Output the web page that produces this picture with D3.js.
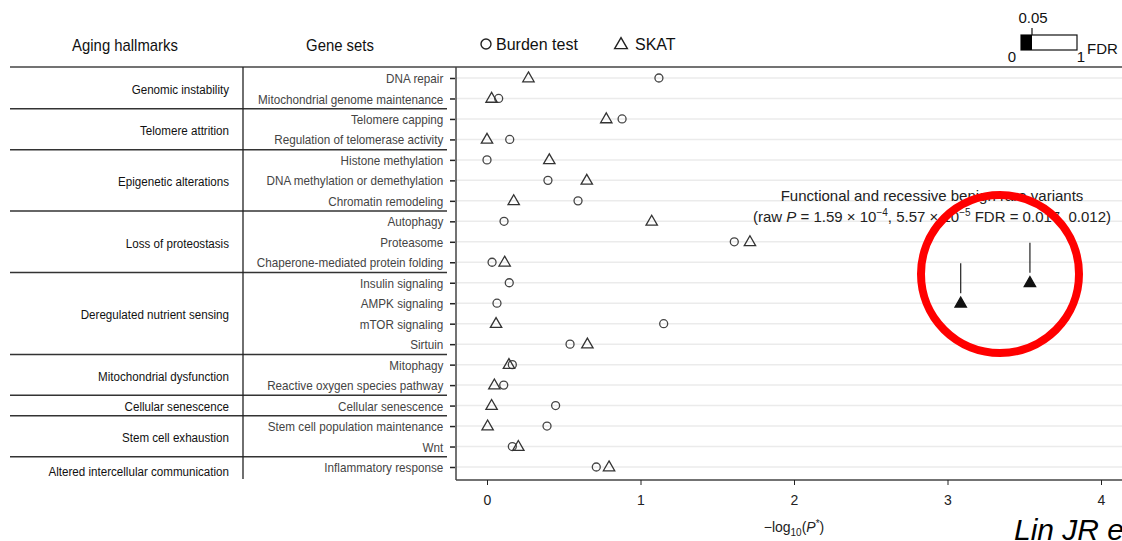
<!DOCTYPE html>
<html>
<head>
<meta charset="utf-8">
<script src="https://cdn.jsdelivr.net/npm/d3@7"></script>
<style>
body { margin: 0; background: #fff; }
svg { display: block; }
text { font-family: "Liberation Sans", Arial, Helvetica, sans-serif; }
</style>
</head>
<body>
<div id="container"></div>
<script>
// gene sets, top to bottom
var geneSets = ["DNA repair", "Mitochondrial genome maintenance", "Telomere capping",
	"Regulation of telomerase activity", "Histone methylation", "DNA methylation or demethylation",
	"Chromatin remodeling", "Autophagy", "Proteasome", "Chaperone-mediated protein folding",
	"Insulin signaling", "AMPK signaling", "mTOR signaling", "Sirtuin", "Mitophagy",
	"Reactive oxygen species pathway", "Cellular senescence", "Stem cell population maintenance",
	"Wnt", "Inflammatory response"];

// aging hallmarks and how many gene sets each one spans
var hallmarks = ["Genomic instability", "Telomere attrition", "Epigenetic alterations",
	"Loss of proteostasis", "Deregulated nutrient sensing", "Mitochondrial dysfunction",
	"Cellular senescence", "Stem cell exhaustion", "Altered intercellular communication"];
var hallmarkSizes = [2, 2, 3, 3, 4, 2, 1, 2, 1];

// -log10(P*) values
var burden = [1.12, 0.076, 0.88, 0.148, 0.0, 0.397, 0.593, 0.111, 1.611, 0.033,
	0.145, 0.065, 1.151, 0.541, 0.165, 0.109, 0.447, 0.391, 0.165, 0.712];
var skat = [0.27, 0.03, 0.777, 0.0, 0.406, 0.65, 0.174, 1.073, 1.713, 0.115,
	3.537, 3.086, 0.059, 0.654, 0.143, 0.048, 0.03, 0.004, 0.204, 0.795];
// FDR below 0.05 -> filled
var skatSignificant = ["Insulin signaling", "AMPK signaling"];

var xTicks = [0, 1, 2, 3, 4];

var W = 1122, H = 541;
var narrow = "scale(0.9,1)";
var svg = d3.select("#container").append("svg")
	.attr("width", W)
	.attr("height", H);

var panel = {left: 456, top: 67, bottom: 480};

var x = d3.scaleLinear().domain([0, 4]).range([487, 1101]);
var y = d3.scalePoint().domain(geneSets).range([78, 467]);

// clip for panel
svg.append("defs").append("clipPath").attr("id", "pclip")
	.append("rect").attr("x", panel.left).attr("y", panel.top)
	.attr("width", W - panel.left).attr("height", panel.bottom - panel.top);

// grid lines
svg.append("g").selectAll("line").data(geneSets).enter()
	.append("line")
	.attr("x1", panel.left).attr("x2", W)
	.attr("y1", function(d) { return y(d); })
	.attr("y2", function(d) { return y(d); })
	.attr("stroke", "#ebebeb")
	.attr("stroke-width", 1.5);

// top rule
svg.append("line")
	.attr("x1", 10).attr("x2", W).attr("y1", panel.top).attr("y2", panel.top)
	.attr("stroke", "#444").attr("stroke-width", 1.5);

// panel left border
svg.append("line")
	.attr("x1", panel.left).attr("x2", panel.left).attr("y1", panel.top).attr("y2", panel.bottom)
	.attr("stroke", "#444").attr("stroke-width", 1.5);

// y axis ticks + labels (gene sets)
var yAxis = d3.axisLeft(y).tickSize(5).tickPadding(8);
var yg = svg.append("g")
	.attr("transform", "translate(" + (panel.left - 1) + ",0)")
	.call(yAxis);
yg.select(".domain").remove();
yg.selectAll(".tick line").attr("stroke", "#222").attr("stroke-width", 1.5);
yg.selectAll(".tick text")
	.attr("fill", "#444")
	.attr("transform", narrow)
	.style("font-size", "13px")
	.attr("dy", "0.35em");

// x axis
var xAxis = d3.axisBottom(x).tickValues(xTicks).tickFormat(d3.format("d")).tickSize(5).tickPadding(10);
var xg = svg.append("g")
	.attr("transform", "translate(0," + panel.bottom + ")")
	.call(xAxis);
xg.select(".domain").attr("d", "M" + panel.left + ",0H" + W).attr("stroke", "#444").attr("stroke-width", 1.5);
xg.selectAll(".tick line").attr("stroke", "#222");
xg.selectAll(".tick text").attr("fill", "#222").style("font-size", "14px");

var xl = svg.append("text")
	.attr("x", x(2)).attr("y", 532)
	.attr("text-anchor", "middle")
	.attr("fill", "#222")
	.style("font-size", "14px");
xl.append("tspan").text("\u2212log");
xl.append("tspan").attr("dy", 4).style("font-size", "10px").text("10");
xl.append("tspan").attr("dy", -4).text("(");
xl.append("tspan").style("font-style", "italic").text("P");
xl.append("tspan").attr("dy", -5).style("font-size", "10px").text("*");
xl.append("tspan").attr("dy", 5).text(")");

// hallmark table
var starts = [];
var acc = 0;
hallmarkSizes.forEach(function(n) { starts.push(acc); acc += n; });
function boundary(i) {
	if (i <= 0) return panel.top;
	if (i >= geneSets.length) return panel.bottom;
	return (y(geneSets[i - 1]) + y(geneSets[i])) / 2;
}
var table = svg.append("g");
table.selectAll(".sep").data(starts.slice(1)).enter()
	.append("line")
	.attr("class", "sep")
	.attr("x1", 10).attr("x2", 447)
	.attr("y1", function(d) { return boundary(d); })
	.attr("y2", function(d) { return boundary(d); })
	.attr("stroke", "#333").attr("stroke-width", 1.5);
table.append("line")
	.attr("x1", 243).attr("x2", 243).attr("y1", panel.top).attr("y2", 479)
	.attr("stroke", "#222").attr("stroke-width", 1.3);
table.selectAll(".hm").data(hallmarks).enter()
	.append("g")
	.attr("class", "hm")
	.attr("transform", function(d, i) {
		var cy = (boundary(starts[i]) + boundary(starts[i] + hallmarkSizes[i])) / 2 + 1;
		if (i == hallmarks.length - 1) cy += 2;
		return "translate(229," + cy + ") scale(0.86,1)";
	})
	.append("text")
	.attr("dy", "0.35em")
	.attr("text-anchor", "end")
	.attr("fill", "#111")
	.style("font-size", "13.5px")
	.text(function(d) { return d; });

// headers
svg.append("g").attr("transform", "translate(125,51) scale(0.93,1)")
	.append("text").attr("text-anchor", "middle")
	.attr("fill", "#111").style("font-size", "16px").text("Aging hallmarks");
svg.append("g").attr("transform", "translate(340,51) scale(0.93,1)")
	.append("text").attr("text-anchor", "middle")
	.attr("fill", "#111").style("font-size", "16px").text("Gene sets");

// points
var plot = svg.append("g").attr("clip-path", "url(#pclip)");
plot.selectAll(".burden").data(burden).enter()
	.append("circle")
	.attr("class", "burden")
	.attr("cx", function(d) { return x(d); })
	.attr("cy", function(d, i) { return y(geneSets[i]); })
	.attr("r", 4)
	.attr("fill", "none")
	.attr("stroke", "#444")
	.attr("stroke-width", 1.3);

var tri = d3.symbol().type(d3.symbolTriangle).size(56);
plot.selectAll(".skat").data(skat).enter()
	.append("path")
	.attr("class", "skat")
	.attr("d", tri)
	.attr("transform", function(d, i) { return "translate(" + x(d) + "," + (y(geneSets[i]) + 0.5) + ")"; })
	.attr("fill", function(d, i) { return skatSignificant.indexOf(geneSets[i]) >= 0 ? "#111" : "none"; })
	.attr("stroke", function(d, i) { return skatSignificant.indexOf(geneSets[i]) >= 0 ? "#111" : "#333"; })
	.attr("stroke-width", 1.3);

// lead lines above the significant triangles
skatSignificant.forEach(function(g) {
	var i = geneSets.indexOf(g);
	plot.append("line")
		.attr("x1", x(skat[i])).attr("x2", x(skat[i]))
		.attr("y1", y(g) - 40).attr("y2", y(g) - 10)
		.attr("stroke", "#222").attr("stroke-width", 1.2);
});

// annotation
svg.append("text").attr("x", 932).attr("y", 201).attr("text-anchor", "middle")
	.attr("fill", "#222").style("font-size", "15px")
	.text("Functional and recessive benign rare variants");
var ann = svg.append("text").attr("x", 932).attr("y", 222).attr("text-anchor", "middle")
	.attr("fill", "#222").style("font-size", "15px");
ann.append("tspan").text("(raw ");
ann.append("tspan").style("font-style", "italic").text("P");
ann.append("tspan").text(" = 1.59 \u00d7 10");
ann.append("tspan").attr("dy", -6).style("font-size", "10px").text("\u22124");
ann.append("tspan").attr("dy", 6).text(", 5.57 \u00d7 10");
ann.append("tspan").attr("dy", -6).style("font-size", "10px").text("\u22125");
ann.append("tspan").attr("dy", 6).text(" FDR = 0.017, 0.012)");

// legend
var lg = svg.append("g");
lg.append("circle").attr("cx", 486).attr("cy", 44).attr("r", 5)
	.attr("fill", "none").attr("stroke", "#222").attr("stroke-width", 1.4);
lg.append("text").attr("x", 496).attr("y", 50).attr("fill", "#111")
	.style("font-size", "16px").text("Burden test");
lg.append("path").attr("d", d3.symbol().type(d3.symbolTriangle).size(70))
	.attr("transform", "translate(621,45)")
	.attr("fill", "none").attr("stroke", "#222").attr("stroke-width", 1.4);
lg.append("text").attr("x", 635).attr("y", 50).attr("fill", "#111")
	.style("font-size", "16px").text("SKAT");

// FDR colour key
var fdr = d3.scaleLinear().domain([0, 1]).range([1021, 1077]);
var key = svg.append("g");
key.append("rect").attr("x", fdr(0)).attr("y", 35).attr("width", fdr(1) - fdr(0)).attr("height", 15)
	.attr("fill", "#fff").attr("stroke", "#111").attr("stroke-width", 1.2);
key.append("rect").attr("x", fdr(0)).attr("y", 35).attr("width", 11).attr("height", 15)
	.attr("fill", "#000");
key.append("line").attr("x1", fdr(0) + 11).attr("x2", fdr(0) + 11).attr("y1", 28).attr("y2", 35)
	.attr("stroke", "#111").attr("stroke-width", 1.2);
key.append("text").attr("x", 1033).attr("y", 23).attr("text-anchor", "middle")
	.attr("fill", "#111").style("font-size", "15px").text("0.05");
key.append("text").attr("x", 1012).attr("y", 62).attr("text-anchor", "middle")
	.attr("fill", "#111").style("font-size", "15px").text("0");
key.append("text").attr("x", 1081).attr("y", 62).attr("text-anchor", "middle")
	.attr("fill", "#111").style("font-size", "15px").text("1");
key.append("text").attr("x", 1087).attr("y", 54)
	.attr("fill", "#111").style("font-size", "15px").text("FDR");

// red highlight ring
svg.append("ellipse").attr("cx", 1000).attr("cy", 274).attr("rx", 79).attr("ry", 79)
	.attr("fill", "none").attr("stroke", "#ff0000").attr("stroke-width", 8);

// citation
svg.append("text").attr("x", 1014).attr("y", 540)
	.attr("fill", "#000")
	.style("font-style", "italic").style("font-size", "30px")
	.text("Lin JR et al.");
</script>
</body>
</html>
